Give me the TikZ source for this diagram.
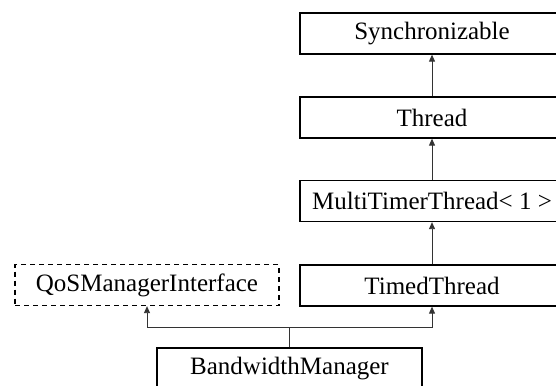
\documentclass[tikz,border=0pt]{standalone}
\usepackage{fontspec}
\setmainfont{Liberation Serif}
\usetikzlibrary{arrows.meta}
\begin{document}
\begin{tikzpicture}[x=1pt,y=1pt,
  cls/.style={draw=black,line width=1.3pt,fill=white,minimum width=264pt,minimum height=41pt,inner sep=0pt,font=\fontsize{25}{30}\selectfont},
  iface/.style={cls,dashed,dash pattern=on 5pt off 4pt},
  inh/.style={draw=black!80,line width=0.9pt,-{Triangle[length=7pt,width=6pt]}}]
\useasboundingbox (0,0) rectangle (556,-385);
\clip (0,0) rectangle (556,-385);
\fill[white] (0,0) rectangle (556,-385);
\node[cls] (sync) at (432,-33.5) {Synchronizable};
\node[cls] (thr) at (432,-117.5) {Thread};
\node[cls] (mtt) at (432,-201) {MultiTimerThread< 1 >};
\node[cls] (tt) at (432,-285.5) {TimedThread};
\node[iface] (qos) at (147,-285) {QoSManagerInterface};
\node[cls,minimum width=265pt] (bw) at (289.5,-368.5) {BandwidthManager};
\draw[inh] (thr.north) -- (sync.south);
\draw[inh] (mtt.north) -- (thr.south);
\draw[inh] (tt.north) -- (mtt.south);
\coordinate (j) at (289.5,-327);
\draw[inh] (bw.north) -- (j) -| (qos.south);
\draw[inh] (bw.north) -- (j) -| (tt.south);
\end{tikzpicture}
\end{document}
